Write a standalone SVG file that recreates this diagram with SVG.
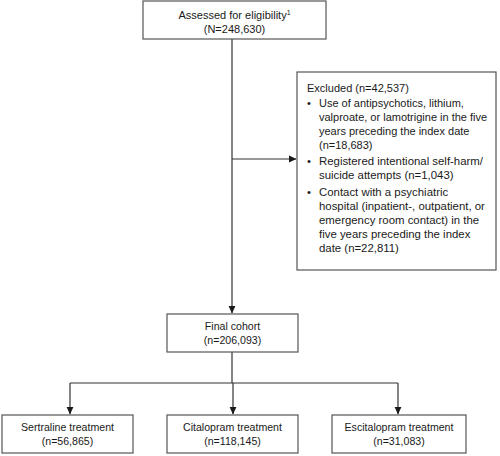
<svg xmlns="http://www.w3.org/2000/svg" width="500" height="456" viewBox="0 0 500 456">
<defs>
<style>
.box{fill:#fff;stroke:#555;stroke-width:1.2}
.t{font-family:"Liberation Sans",Arial,sans-serif;font-size:11px;fill:#1a1a1a}
.s{font-size:10.6px}
.b{font-size:11.4px}
.c{text-anchor:middle}
.line{fill:none;stroke:#333;stroke-width:1.2}
</style>
<marker id="ah" markerWidth="8" markerHeight="8" refX="7" refY="4" orient="auto" markerUnits="userSpaceOnUse">
<path d="M0,0.6 L7.5,4 L0,7.4 Z" fill="#1a1a1a"/>
</marker>
</defs>
<rect width="500" height="456" fill="#fff"/>
<g id="connectors">
<line class="line" x1="232" y1="39" x2="232" y2="313" marker-end="url(#ah)"/>
<line class="line" x1="232" y1="159" x2="296" y2="159" marker-end="url(#ah)"/>
<line class="line" x1="232" y1="352" x2="232" y2="383"/>
<line class="line" x1="70" y1="383" x2="398" y2="383"/>
<line class="line" x1="70" y1="383" x2="70" y2="414" marker-end="url(#ah)"/>
<line class="line" x1="233" y1="383" x2="233" y2="414" marker-end="url(#ah)"/>
<line class="line" x1="398" y1="383" x2="398" y2="414" marker-end="url(#ah)"/>
</g>
<g id="assessed">
<rect class="box" x="143" y="1" width="183" height="38"/>
<text class="t c" x="234.5" y="19">Assessed for eligibility<tspan font-size="7" dy="-4">1</tspan></text>
<text class="t c" x="234.5" y="33">(N=248,630)</text>
</g>
<g id="excluded">
<rect class="box" x="297" y="72" width="199" height="198"/>
<text class="t" x="307" y="92" font-size="10.4">Excluded (n=42,537)</text>
<text class="t" x="307" y="107">•</text>
<text class="t" x="319" y="107">Use of antipsychotics, lithium,</text>
<text class="t" x="319" y="121">valproate, or lamotrigine in the five</text>
<text class="t" x="319" y="135">years preceding the index date</text>
<text class="t" x="319" y="149">(n=18,683)</text>
<text class="t b" x="307" y="165">•</text>
<text class="t b" x="319" y="165">Registered intentional self-harm/</text>
<text class="t b" x="319" y="179">suicide attempts (n=1,043)</text>
<text class="t b" x="307" y="196">•</text>
<text class="t b" x="319" y="196">Contact with a psychiatric</text>
<text class="t b" x="319" y="210">hospital (inpatient-, outpatient, or</text>
<text class="t b" x="319" y="224">emergency room contact) in the</text>
<text class="t b" x="319" y="238">five years preceding the index</text>
<text class="t b" x="319" y="252">date (n=22,811)</text>
</g>
<g id="final">
<rect class="box" x="167" y="314" width="131" height="38"/>
<text class="t c s" x="232.5" y="330">Final cohort</text>
<text class="t c s" x="232.5" y="344">(n=206,093)</text>
</g>
<g id="sertraline">
<rect class="box" x="2" y="415" width="131" height="38"/>
<text class="t c s" x="67.5" y="431">Sertraline treatment</text>
<text class="t c s" x="67.5" y="445">(n=56,865)</text>
</g>
<g id="citalopram">
<rect class="box" x="167" y="415" width="131" height="38"/>
<text class="t c s" x="232.5" y="431">Citalopram treatment</text>
<text class="t c s" x="232.5" y="445">(n=118,145)</text>
</g>
<g id="escitalopram">
<rect class="box" x="332" y="415" width="134" height="38"/>
<text class="t c s" x="399" y="431">Escitalopram treatment</text>
<text class="t c s" x="399" y="445">(n=31,083)</text>
</g>
</svg>
